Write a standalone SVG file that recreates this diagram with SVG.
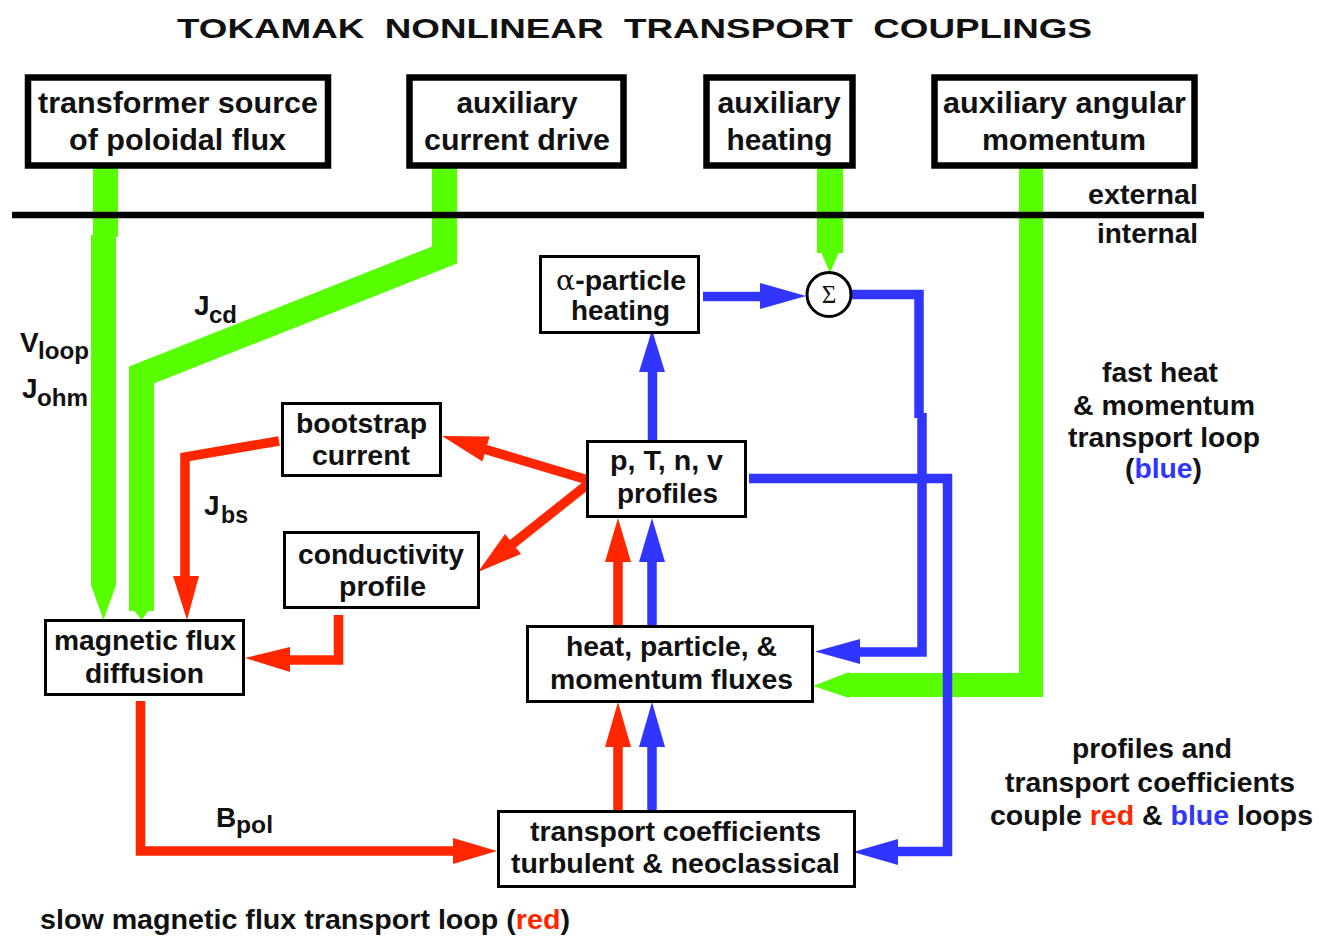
<svg xmlns="http://www.w3.org/2000/svg" width="1319" height="937" viewBox="0 0 1319 937">
<style>
.t{font-family:"Liberation Sans",Arial,Helvetica,sans-serif;font-weight:bold;font-size:28px;fill:#111}
.tt{font-size:29px}
.sub{font-size:24px}
.c{text-anchor:middle}
.box{fill:#fff;stroke:#000;stroke-width:3}
.tbox{fill:#fff;stroke:#000;stroke-width:6.5}
.gr{fill:none;stroke:#57ff00}
.rd{fill:none;stroke:#ff2600;stroke-width:9.5;stroke-linejoin:miter}
.bl{fill:none;stroke:#3035ff;stroke-width:9.5;stroke-linejoin:miter}
.rh{fill:#ff2600}
.bh{fill:#3035ff}
.gh{fill:#57ff00}
.red{fill:#ff2600}
.blue{fill:#3035ff}
</style>
<rect width="1319" height="937" fill="#fff"/>
<text class="t" x="177" y="38" font-size="33" textLength="915" lengthAdjust="spacingAndGlyphs">TOKAMAK&#160; NONLINEAR&#160; TRANSPORT&#160; COUPLINGS</text>

<g id="connectors">
  <!-- green -->
  <rect class="gh" x="93" y="167" width="25" height="70"/>
  <rect class="gh" x="91" y="235" width="25" height="351"/>
  <polygon class="gh" points="91,585 116,585 103.5,620"/>
  <polyline class="gr" stroke-width="25" points="444.5,167 444.5,255 141.5,375 141.5,611"/>
  <polygon class="gh" points="134,610 149,610 141.5,620"/>
  <rect class="gh" x="817" y="167" width="26" height="86"/>
  <polygon class="gh" points="821,252 839,252 830,273"/>
  <polyline class="gr" stroke-width="24" points="1031,167 1031,685 847,685"/>
  <polygon class="gh" points="849,672 849,698 813,686"/>
  <!-- red -->
  <polyline class="rd" points="279,441 185,457 185,577"/>
  <polygon class="rh" points="173,576 199,576 187,620"/>
  <polyline class="rd" points="338.5,615 338.5,660 289,660"/>
  <polygon class="rh" points="290,647 290,672 245,658"/>
  <line class="rd" x1="588" y1="480" x2="484" y2="449"/>
  <polygon class="rh" points="442,436 489.6,436.5 482.4,461.5"/>
  <line class="rd" x1="588" y1="484" x2="510" y2="546"/>
  <polygon class="rh" points="478,572 505,534 521,554"/>
  <polyline class="rd" points="140.5,701 140.5,851 454,851"/>
  <polygon class="rh" points="453,838 453,864 497,851"/>
  <line class="rd" x1="618" y1="810" x2="618" y2="745"/>
  <polygon class="rh" points="605,747 631,747 618,702"/>
  <line class="rd" x1="618" y1="626" x2="618" y2="560"/>
  <polygon class="rh" points="605,562 631,562 618,518"/>
  <!-- blue -->
  <line class="bl" x1="652" y1="810" x2="652" y2="745"/>
  <polygon class="bh" points="639,747 665,747 652,702"/>
  <line class="bl" x1="652" y1="626" x2="652" y2="560"/>
  <polygon class="bh" points="639,562 665,562 652,518"/>
  <line class="bl" x1="652.5" y1="441" x2="652.5" y2="370"/>
  <polygon class="bh" points="639,372 665,372 652,330"/>
  <line class="bl" x1="703" y1="296.5" x2="762" y2="296.5"/>
  <polygon class="bh" points="760,283 760,309 806,296"/>
  <polyline class="bl" points="852,294.5 919,294.5 919,418"/>
  <polyline class="bl" points="922,413 922,652 858,652"/>
  <polygon class="bh" points="860,639 860,664 815,651.5"/>
  <polyline class="bl" points="749,478.5 947.5,478.5 947.5,851.5 896,851.5"/>
  <polygon class="bh" points="898,839 898,865 853,852"/>
</g>

<line x1="12" y1="215" x2="1204" y2="215" stroke="#000" stroke-width="6.5"/>
<text class="t" x="1088" y="204" textLength="110" lengthAdjust="spacingAndGlyphs">external</text>
<text class="t" x="1097" y="243" textLength="101" lengthAdjust="spacingAndGlyphs">internal</text>

<g id="transformer">
  <rect class="tbox" x="28" y="77.5" width="300" height="88"/>
  <text class="t tt c" x="178" y="113" textLength="280" lengthAdjust="spacingAndGlyphs">transformer source</text>
  <text class="t tt c" x="177.5" y="150" textLength="217" lengthAdjust="spacingAndGlyphs">of poloidal flux</text>
</g>
<g id="aux-current">
  <rect class="tbox" x="409.5" y="77.5" width="214" height="88"/>
  <text class="t tt c" x="517" y="113" textLength="121" lengthAdjust="spacingAndGlyphs">auxiliary</text>
  <text class="t tt c" x="517" y="150" textLength="186" lengthAdjust="spacingAndGlyphs">current drive</text>
</g>
<g id="aux-heating">
  <rect class="tbox" x="706.5" y="77.5" width="146" height="88"/>
  <text class="t tt c" x="779" y="113" textLength="123" lengthAdjust="spacingAndGlyphs">auxiliary</text>
  <text class="t tt c" x="779.5" y="150" textLength="106" lengthAdjust="spacingAndGlyphs">heating</text>
</g>
<g id="aux-angular">
  <rect class="tbox" x="934.5" y="77.5" width="260" height="88"/>
  <text class="t tt c" x="1064.5" y="113" textLength="243" lengthAdjust="spacingAndGlyphs">auxiliary angular</text>
  <text class="t tt c" x="1064" y="150" textLength="164" lengthAdjust="spacingAndGlyphs">momentum</text>
</g>

<g id="alpha">
  <rect class="box" x="540.5" y="256.5" width="158" height="76"/>
  <text class="t c" x="621" y="290" textLength="130" lengthAdjust="spacingAndGlyphs"><tspan font-family="'DejaVu Serif','Liberation Serif',serif" font-weight="normal">α</tspan>-particle</text>
  <text class="t c" x="620.5" y="320" textLength="99" lengthAdjust="spacingAndGlyphs">heating</text>
</g>
<g id="sigma">
  <circle cx="829" cy="294.5" r="22" fill="#fff" stroke="#000" stroke-width="3"/>
  <text x="829" y="303" text-anchor="middle" font-family="'Liberation Serif','DejaVu Serif',serif" font-size="25" fill="#111">Σ</text>
</g>
<g id="bootstrap">
  <rect class="box" x="282.5" y="403.5" width="158" height="72"/>
  <text class="t c" x="361.5" y="433" textLength="131" lengthAdjust="spacingAndGlyphs">bootstrap</text>
  <text class="t c" x="361" y="465" textLength="98" lengthAdjust="spacingAndGlyphs">current</text>
</g>
<g id="conductivity">
  <rect class="box" x="284.5" y="532.5" width="194" height="75"/>
  <text class="t c" x="381" y="564" textLength="166" lengthAdjust="spacingAndGlyphs">conductivity</text>
  <text class="t c" x="382.5" y="596" textLength="87" lengthAdjust="spacingAndGlyphs">profile</text>
</g>
<g id="magnetic">
  <rect class="box" x="45.5" y="620.5" width="198" height="74"/>
  <text class="t c" x="145" y="650" textLength="182" lengthAdjust="spacingAndGlyphs">magnetic flux</text>
  <text class="t c" x="144.5" y="683" textLength="119" lengthAdjust="spacingAndGlyphs">diffusion</text>
</g>
<g id="profiles">
  <rect class="box" x="587.5" y="441.5" width="158" height="75"/>
  <text class="t c" x="666.5" y="470" textLength="113" lengthAdjust="spacingAndGlyphs">p, T, n, v</text>
  <text class="t c" x="667.5" y="503" textLength="101" lengthAdjust="spacingAndGlyphs">profiles</text>
</g>
<g id="fluxes">
  <rect class="box" x="527.5" y="626.5" width="285" height="75"/>
  <text class="t c" x="671.5" y="656" textLength="211" lengthAdjust="spacingAndGlyphs">heat, particle, &amp;</text>
  <text class="t c" x="671.5" y="689" textLength="243" lengthAdjust="spacingAndGlyphs">momentum fluxes</text>
</g>
<g id="transport">
  <rect class="box" x="498.5" y="811.5" width="356" height="75"/>
  <text class="t c" x="675.5" y="841" textLength="291" lengthAdjust="spacingAndGlyphs">transport coefficients</text>
  <text class="t c" x="675.5" y="873" textLength="329" lengthAdjust="spacingAndGlyphs">turbulent &amp; neoclassical</text>
</g>

<g id="labels">
  <text class="t" x="20" y="352">V</text>
  <text class="t sub" x="38" y="359" textLength="51" lengthAdjust="spacingAndGlyphs">loop</text>
  <text class="t" x="22" y="398">J</text>
  <text class="t sub" x="37" y="406" textLength="51" lengthAdjust="spacingAndGlyphs">ohm</text>
  <text class="t" x="194" y="315">J</text>
  <text class="t sub" x="209" y="323" textLength="28" lengthAdjust="spacingAndGlyphs">cd</text>
  <text class="t" x="204" y="515">J</text>
  <text class="t sub" x="221" y="523" textLength="27" lengthAdjust="spacingAndGlyphs">bs</text>
  <text class="t" x="216" y="827">B</text>
  <text class="t sub" x="236" y="833" textLength="37" lengthAdjust="spacingAndGlyphs">pol</text>

  <text class="t c" x="1160" y="382" textLength="116" lengthAdjust="spacingAndGlyphs">fast heat</text>
  <text class="t c" x="1164" y="415" textLength="182" lengthAdjust="spacingAndGlyphs">&amp; momentum</text>
  <text class="t c" x="1164" y="447" textLength="192" lengthAdjust="spacingAndGlyphs">transport loop</text>
  <text class="t c" x="1163.5" y="478" textLength="77" lengthAdjust="spacingAndGlyphs">(<tspan class="blue">blue</tspan>)</text>

  <text class="t c" x="1152" y="758" textLength="160" lengthAdjust="spacingAndGlyphs">profiles and</text>
  <text class="t c" x="1150" y="792" textLength="290" lengthAdjust="spacingAndGlyphs">transport coefficients</text>
  <text class="t c" x="1151.5" y="825" textLength="323" lengthAdjust="spacingAndGlyphs">couple <tspan class="red">red</tspan> &amp; <tspan class="blue">blue</tspan> loops</text>

  <text class="t" x="40" y="929" textLength="530" lengthAdjust="spacingAndGlyphs">slow magnetic flux transport loop (<tspan class="red">red</tspan>)</text>
</g>
</svg>
